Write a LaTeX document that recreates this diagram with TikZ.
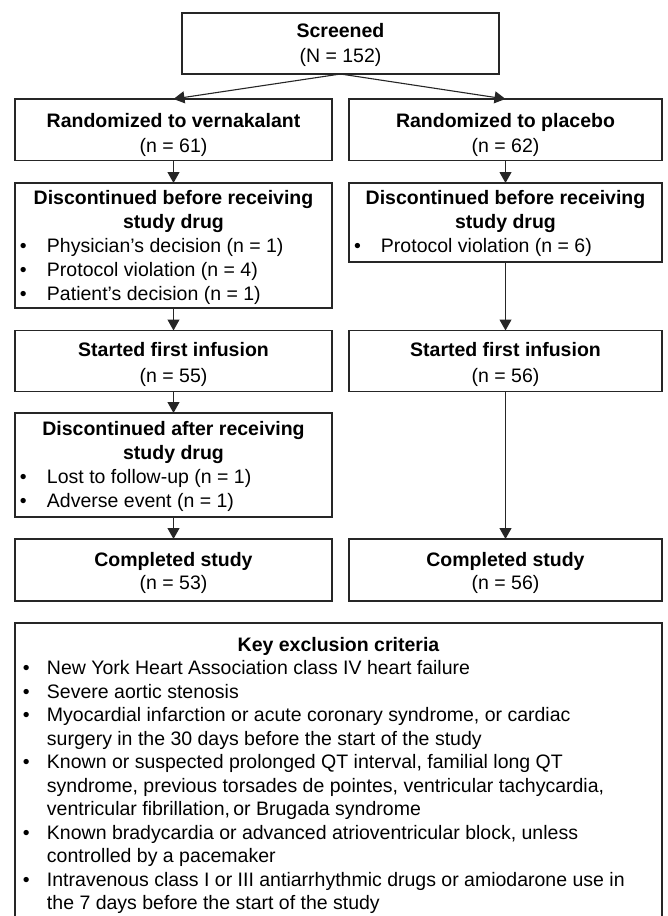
\documentclass[tikz,border=0pt]{standalone}
\usepackage{fontspec}
\setmainfont{Liberation Sans}
\usetikzlibrary{arrows.meta}
\newcommand{\firstline}{\rule{0pt}{15pt}}
\newcommand{\itm}[2][5pt]{\par\noindent\hangindent=32pt\hangafter=1\makebox[32pt][l]{\hspace{#1}\textbullet}#2\par}
\newcommand{\bx}[5]{\parbox[c][#1][t]{#2}{\fontsize{19.5pt}{#3}\selectfont\vspace*{#4}#5}}
\tikzset{
  box/.style={draw=black!85, line width=1.2pt, inner sep=0pt, outer sep=0pt, anchor=north west},
  arr/.style={draw=black!85, line width=1.1pt, -{Triangle[length=11pt,width=12pt]}},
}
\begin{document}
\begin{tikzpicture}[x=1pt,y=-1pt]
\useasboundingbox (0,0) rectangle (668,916);
\node[box] (scr) at (182,13) {\bx{61pt}{317pt}{25pt}{9pt}{\centering\firstline\textbf{Screened}\\(N = 152)}};
\node[box] (rl) at (15,99) {\bx{61.5pt}{317pt}{25.5pt}{13pt}{\centering\firstline\textbf{Randomized to vernakalant}\\(n = 61)}};
\node[box] (rr) at (349,99) {\bx{61.5pt}{313pt}{25.5pt}{13pt}{\centering\firstline\textbf{Randomized to placebo}\\(n = 62)}};
\node[box] (dl) at (15,183) {\bx{125pt}{317pt}{24pt}{6pt}{{\centering\bfseries\firstline Discontinued before receiving\\study drug\par}\raggedright\itm{Physician’s decision (n = 1)}\itm{Protocol violation (n = 4)}\itm{Patient’s decision (n = 1)}}};
\node[box] (dr) at (349,183) {\bx{79pt}{313pt}{24pt}{6pt}{{\centering\bfseries\firstline Discontinued before receiving\\study drug\par}\raggedright\itm{Protocol violation (n = 6)}}};
\node[box] (sl) at (15,330.5) {\bx{61pt}{317pt}{25.5pt}{11pt}{\centering\firstline\textbf{Started first infusion}\\(n = 55)}};
\node[box] (sr) at (349,330.5) {\bx{61pt}{313pt}{25.5pt}{11pt}{\centering\firstline\textbf{Started first infusion}\\(n = 56)}};
\node[box] (dl2) at (15,413) {\bx{104pt}{317pt}{24pt}{7pt}{{\centering\bfseries\firstline Discontinued after receiving\\study drug\par}\raggedright\itm{Lost to follow-up (n = 1)}\itm{Adverse event (n = 1)}}};
\node[box] (cl) at (15,539) {\bx{62pt}{317pt}{23pt}{12pt}{\centering\firstline\textbf{Completed study}\\(n = 53)}};
\node[box] (cr) at (349,539) {\bx{62pt}{313pt}{23pt}{12pt}{\centering\firstline\textbf{Completed study}\\(n = 56)}};
\node[box] (key) at (15,623) {\bx{297pt}{647pt}{23.5pt}{13pt}{{\centering\bfseries\firstline Key exclusion criteria\par}\raggedright
\itm[8pt]{New York Heart Association class IV heart failure}
\itm[8pt]{Severe aortic stenosis}
\itm[8pt]{Myocardial infarction or acute coronary syndrome, or cardiac\newline surgery in the 30 days before the start of the study}
\itm[8pt]{Known or suspected prolonged QT interval, familial long QT\newline syndrome, previous torsades de pointes, ventricular tachycardia,\newline ventricular fibrillation,\,or Brugada syndrome}
\itm[8pt]{Known bradycardia or advanced atrioventricular block, unless\newline controlled by a pacemaker}
\itm[8pt]{Intravenous class I or III antiarrhythmic drugs or amiodarone use in\newline the 7 days before the start of the study}}};
\draw[arr] (scr.south) -- (rl.north);
\draw[arr] (scr.south) -- (rr.north);
\draw[arr] (rl.south) -- (dl.north);
\draw[arr] (rr.south) -- (dr.north);
\draw[arr] (dl.south) -- (sl.north);
\draw[arr] (dr.south) -- (sr.north);
\draw[arr] (sl.south) -- (dl2.north);
\draw[arr] (dl2.south) -- (cl.north);
\draw[arr] (sr.south) -- (cr.north);
\end{tikzpicture}
\end{document}
